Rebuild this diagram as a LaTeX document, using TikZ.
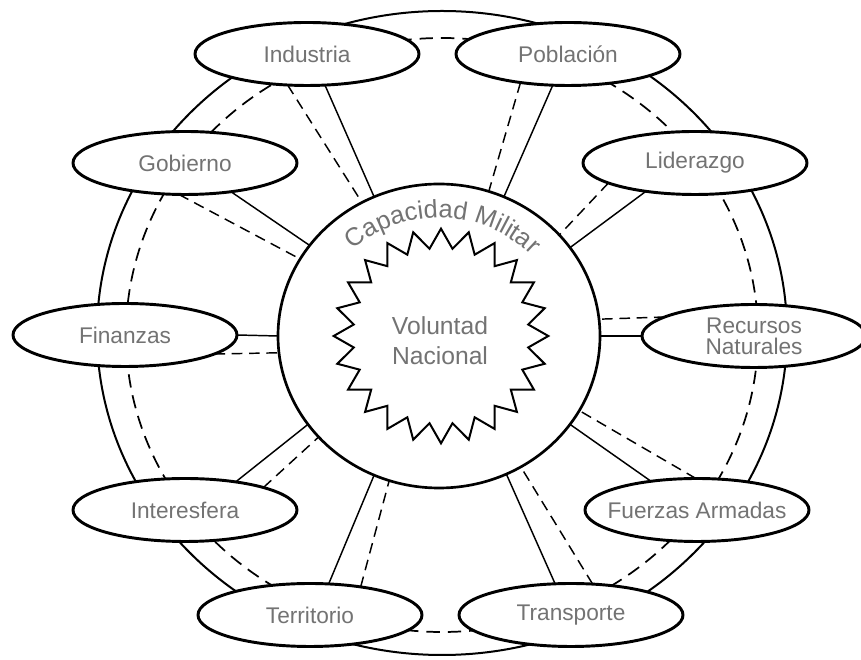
\documentclass[tikz,border=0pt]{standalone}
\usepackage{fontspec}
\setmainfont{Liberation Sans}
\usetikzlibrary{shapes.geometric,decorations.text}
\newcommand\capfont{\fontsize{19}{20}\selectfont}
\begin{document}
\begin{tikzpicture}[x=0.75pt,y=0.75pt,
 item/.style={ellipse, draw, line width=2.2pt, fill=white, minimum width=168pt, minimum height=47.25pt, inner sep=0pt, outer sep=0pt},
 itemtext/.style={font=\fontsize{17}{15.5}\selectfont, text=black!55, align=center},
 spoke/.style={line width=1.1pt},
 dspoke/.style={line width=1.1pt, dash pattern=on 8pt off 5pt},
 ring/.style={line width=1.5pt},
 dring/.style={line width=1.3pt, dash pattern=on 10pt off 6pt}]
\useasboundingbox (0,0) rectangle (861,660);
\fill[white] (0,0) rectangle (861,660);

% outer rings
\draw[ring] (442,327) ellipse [x radius=345, y radius=322];
\draw[dring] (442,325) ellipse [x radius=316, y radius=297];

% items
\node[item, label={[itemtext]center:Industria}] (ind) at (307,606) {};
\node[item, label={[itemtext]center:Población}] (pob) at (568,606) {};
\node[item, label={[itemtext]center:Gobierno}] (gob) at (185,497) {};
\node[item, label={[itemtext]center:Liderazgo}] (lid) at (695,497) {};
\node[item, label={[itemtext]center:Finanzas}] (fin) at (125,325) {};
\node[item, label={[itemtext]center:{Recursos\\Naturales}}] (rec) at (754,324) {};
\node[item, label={[itemtext]center:Interesfera}] (int) at (185,150) {};
\node[item, label={[itemtext]center:Fuerzas Armadas}] (fue) at (697,150) {};
\node[item, label={[itemtext]center:Territorio}] (ter) at (310,45) {};
\node[item, label={[itemtext]center:Transporte}] (tra) at (571,45) {};

% central circle
\node[ellipse, draw, line width=2pt, fill=white, minimum width=241.5pt, minimum height=228pt, inner sep=0pt, outer sep=0pt] (circ) at (439,324) {};

% spokes
\draw[dspoke] (ind.238.5) -- (circ.120.7);
\draw[spoke] (ind.300.1) -- (circ.115.1);
\draw[dspoke] (pob.211) -- (circ.71.4);
\draw[spoke] (pob.244.3) -- (circ.65.2);
\draw[spoke] (gob.328.7) -- (circ.145.4);
\draw[dspoke] (gob.259.2) -- (circ.151.3);
\draw[spoke] (lid.210.7) -- (circ.34.8);
\draw[dspoke] (lid.193.6) -- (circ.40.8);
\draw[spoke] (fin.0) -- (circ.180);
\draw[dspoke] (fin.348.9) -- (circ.186.1);
\draw[spoke] (rec.180) -- (circ.0);
\draw[dspoke] (rec.168) -- (circ.6.8);
\draw[spoke] (int.29.4) -- (circ.214.2);
\draw[dspoke] (int.16.6) -- (circ.220.1);
\draw[spoke] (fue.148.7) -- (circ.326.2);
\draw[dspoke] (fue.92) -- (circ.332.2);
\draw[spoke] (tra.117.1) -- (circ.296.1);
\draw[dspoke] (tra.55.8) -- (circ.302.2);
\draw[spoke] (ter.59.9) -- (circ.245.3);
\draw[dspoke] (ter.29.4) -- (circ.251.9);

% star
\node[star, star points=24, star point ratio=1.22, draw, line width=1.5pt, minimum size=161pt, inner sep=0pt, outer sep=0pt] (will) at (441,324) {};
\node[font=\fontsize{18.5}{22.5}\selectfont, text=black!55, align=center] (vn) at (440,319) {Voluntad\\Nacional};

% curved label
\path[decorate, decoration={text along path, text align=center, text color=black!55, text={|\capfont|Capacidad Militar}}]
 (346.8,404.5) arc[start angle=137, end angle=39, x radius=126, y radius=118];
\end{tikzpicture}
\end{document}
